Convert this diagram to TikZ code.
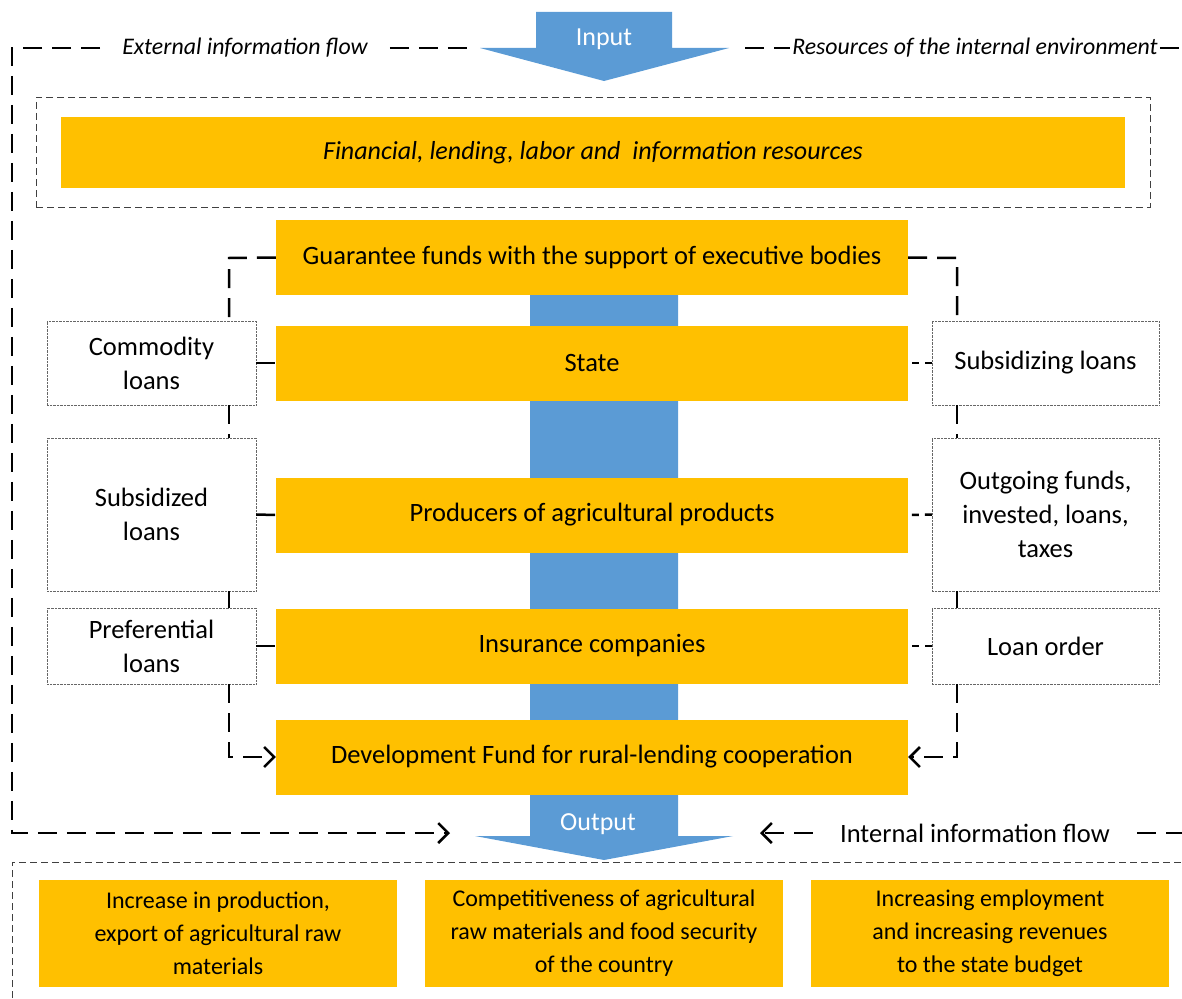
\documentclass[tikz,border=0pt]{standalone}
\usepackage{fontspec}
\setmainfont{Carlito}
\usepackage{tikz}
\usetikzlibrary{arrows.meta}

\definecolor{gold}{HTML}{FFC000}
\definecolor{steel}{HTML}{5B9BD5}

\begin{document}
\begin{tikzpicture}[x=1pt,y=-1pt,
  goldbox/.style={fill=gold, minimum width=632pt, minimum height=75pt, align=center,
    font=\fontsize{26.5}{32}\selectfont},
  loanbox/.style={draw=black!60, densely dotted, thin, minimum width=209pt, align=center,
    font=\fontsize{26.5}{34}\selectfont},
  resultbox/.style={fill=gold, minimum width=358pt, minimum height=107pt, align=center,
    font=\fontsize{24}{33}\selectfont},
  flow/.style={line width=2.5pt, dash pattern=on 19pt off 10pt},
  link/.style={line width=2.5pt, dash pattern=on 19pt off 10pt},
  thindash/.style={draw=black!75, line width=1pt, dash pattern=on 7pt off 4pt},
  tip/.style={-{Straight Barb[length=10pt,width=20pt,line width=2.5pt]}}]
  \useasboundingbox (0,0) rectangle (1182,998);

  \fill[steel] (536,12) -- (672,12) -- (672,48) -- (729,48) -- (604,81) -- (480,48) -- (536,48) -- cycle;
  \fill[steel] (530,295) -- (678,295) -- (678,836) -- (733,836) -- (604,860) -- (475,836) -- (530,836) -- cycle;
  \node[text=white, font=\fontsize{26}{26}\selectfont] (in) at (604,39) {Input};
  \node[text=white, font=\fontsize{26}{26}\selectfont] (out) at (598,824) {Output};

  \node[thindash, minimum width=1114pt, minimum height=110pt] (frame) at (593,152) {};
  \node[goldbox, minimum width=1064pt, minimum height=71pt,
    font=\fontsize{26}{26}\selectfont\itshape] (fin) at (593,152.5)
    {Financial, lending, labor and \ information resources};

  \node[goldbox] (guar) at (592,257.5) {Guarantee funds with the support of executive bodies};
  \node[goldbox] (state) at (592,363) {State};
  \node[goldbox] (prod) at (592,515) {Producers of agricultural products};
  \node[goldbox] (ins) at (592,646) {Insurance companies};
  \node[goldbox] (dev) at (592,757) {Development Fund for rural-lending cooperation};

  \node[loanbox, minimum height=84pt] (comm) at (151.5,363) {Commodity\\loans};
  \node[loanbox, minimum height=153pt] (subd) at (151.5,514.5) {Subsidized\\loans};
  \node[loanbox, minimum height=76pt] (pref) at (151.5,646) {Preferential\\loans};
  \node[loanbox, minimum width=227pt, minimum height=84pt] (sbz) at (1045.5,363) {Subsidizing loans};
  \node[loanbox, minimum width=227pt, minimum height=153pt] (outg) at (1045.5,514.5)
    {Outgoing funds,\\invested, loans,\\taxes};
  \node[loanbox, minimum width=227pt, minimum height=76pt] (order) at (1045.5,646) {Loan order};

  \coordinate (l1) at (229,258);
  \coordinate (r1) at (957,258);
  \draw[link] (guar.west) -- (l1) -- (l1 |- comm.north);
  \draw[link] (l1 |- comm.south) -- (l1 |- subd.north);
  \draw[link] (l1 |- subd.south) -- (l1 |- pref.north);
  \draw[link, tip] (l1 |- pref.south) -- (l1 |- dev.west) -- (dev.west);
  \draw[link] (guar.east) -- (r1) -- (r1 |- sbz.north);
  \draw[link] (r1 |- sbz.south) -- (r1 |- outg.north);
  \draw[link] (r1 |- outg.south) -- (r1 |- order.north);
  \draw[link, tip] (r1 |- order.south) -- (r1 |- dev.east) -- (dev.east);

  \draw[link] (comm.east) -- (state.west);
  \draw[link] (subd.east) -- (prod.west);
  \draw[link] (pref.east) -- (ins.west);
  \draw[link, dash pattern=on 7pt off 6pt] (sbz.west) -- (state.east);
  \draw[link, dash pattern=on 7pt off 6pt] (outg.west) -- (prod.east);
  \draw[link, dash pattern=on 7pt off 6pt] (order.west) -- (ins.east);

  \node[font=\fontsize{23.8}{26}\selectfont\itshape, inner xsep=22pt] (ext) at (245,48) {External information flow};
  \node[font=\fontsize{23.8}{26}\selectfont\itshape, inner xsep=2pt] (res) at (975,48) {Resources of the internal environment};
  \node[font=\fontsize{26.5}{26}\selectfont, inner xsep=27pt] (intf) at (975,833) {Internal information flow};

  \coordinate (c1) at (12,48);
  \coordinate (c2) at (12,833);
  \coordinate (c3) at (450,833);
  \coordinate (c4) at (1182,48);
  \coordinate (c5) at (760,833);
  \coordinate (c6) at (1182,833);
  \coordinate (inL) at (470,48);
  \coordinate (inR) at (745,48);
  \draw[flow, tip] (ext.west) -- (c1) -- (c2) -- (c3);
  \draw[flow] (ext.east) -- (inL);
  \draw[flow] (inR) -- (res.west);
  \draw[flow] (res.east) -- (c4);
  \draw[flow, tip] (intf.west) -- (c5);
  \draw[flow] (intf.east) -- (c6);

  \draw[thindash] (12,998) -- (12,862) -- (1182,862);
  \node[resultbox] (res1) at (218,933.5) {Increase in production,\\export of agricultural raw\\materials};
  \node[resultbox] (res2) at (604,933.5) {Competitiveness of agricultural\\raw materials and food security\\of the country};
  \node[resultbox] (res3) at (990,933.5) {Increasing employment\\and increasing revenues\\to the state budget};
\end{tikzpicture}
\end{document}
